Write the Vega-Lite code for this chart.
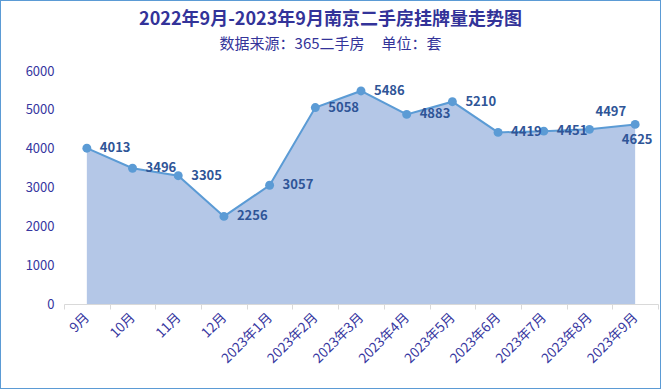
{
  "$schema": "https://vega.github.io/schema/vega-lite/v6.json",
  "width": 661,
  "height": 389,
  "padding": 0,
  "autosize": "none",
  "background": "white",
  "config": {"view": {"stroke": "#5b9bd5", "strokeWidth": 2}, "font": "Noto Sans CJK SC"},
  "title": {
    "text": "2022年9月-2023年9月南京二手房挂牌量走势图",
    "subtitle": "数据来源：365二手房\u00a0\u00a0\u00a0\u00a0\u00a0单位：套",
    "anchor": "middle",
    "frame": "group",
    "orient": "top",
    "offset": -52,
    "font": "Noto Sans CJK SC",
    "fontSize": 18,
    "fontWeight": "bold",
    "color": "#333399",
    "subtitleFont": "Noto Sans CJK SC",
    "subtitleFontSize": 15,
    "subtitleColor": "#333399",
    "subtitlePadding": 8
  },
  "data": {"values": [
    {"month": "9月", "value": 4013},
    {"month": "10月", "value": 3496},
    {"month": "11月", "value": 3305},
    {"month": "12月", "value": 2256},
    {"month": "2023年1月", "value": 3057},
    {"month": "2023年2月", "value": 5058},
    {"month": "2023年3月", "value": 5486},
    {"month": "2023年4月", "value": 4883},
    {"month": "2023年5月", "value": 5210},
    {"month": "2023年6月", "value": 4419},
    {"month": "2023年7月", "value": 4451},
    {"month": "2023年8月", "value": 4497},
    {"month": "2023年9月", "value": 4625}
  ]},
  "encoding": {
    "x": {
      "field": "month", "type": "nominal", "sort": null,
      "scale": {"type": "band", "range": [64, 658], "paddingInner": 0, "paddingOuter": 0},
      "axis": {
        "title": null, "orient": "bottom", "offset": -85,
        "labelAngle": -45, "labelAlign": "right", "labelBaseline": "middle",
        "labelColor": "#3636a0", "labelFontSize": 13.5, "labelPadding": 6,
        "domainColor": "#d9d9d9", "tickColor": "#d9d9d9", "tickSize": 5,
        "tickBand": "extent", "grid": false
      }
    },
    "y": {
      "field": "value", "type": "quantitative",
      "scale": {"domain": [0, 6000], "range": [304, 71], "nice": false},
      "axis": {
        "title": null, "orient": "left", "offset": -64,
        "values": [0, 1000, 2000, 3000, 4000, 5000, 6000], "format": "d",
        "labelColor": "#3636a0", "labelFontSize": 13, "labelPadding": 10,
        "domain": false, "ticks": false, "grid": false
      }
    }
  },
  "layer": [
    {"mark": {"type": "area", "color": "#b4c7e7", "opacity": 1}},
    {"mark": {"type": "line", "color": "#5b9bd5", "strokeWidth": 2}},
    {"mark": {"type": "point", "filled": true, "color": "#5b9bd5", "size": 80, "opacity": 1}},
    {
      "transform": [{"filter": "datum.value != 4497 && datum.value != 4625"}],
      "mark": {"type": "text", "align": "left", "baseline": "middle", "dx": 13, "fontSize": 13, "fontWeight": "bold", "color": "#2f5597"},
      "encoding": {"text": {"field": "value"}}
    },
    {
      "transform": [{"filter": "datum.value == 4497"}],
      "mark": {"type": "text", "align": "left", "baseline": "middle", "dx": 6, "dy": -17, "fontSize": 13, "fontWeight": "bold", "color": "#2f5597"},
      "encoding": {"text": {"field": "value"}}
    },
    {
      "transform": [{"filter": "datum.value == 4625"}],
      "mark": {"type": "text", "align": "center", "baseline": "middle", "dx": 2, "dy": 16, "fontSize": 13, "fontWeight": "bold", "color": "#2f5597"},
      "encoding": {"text": {"field": "value"}}
    }
  ]
}
